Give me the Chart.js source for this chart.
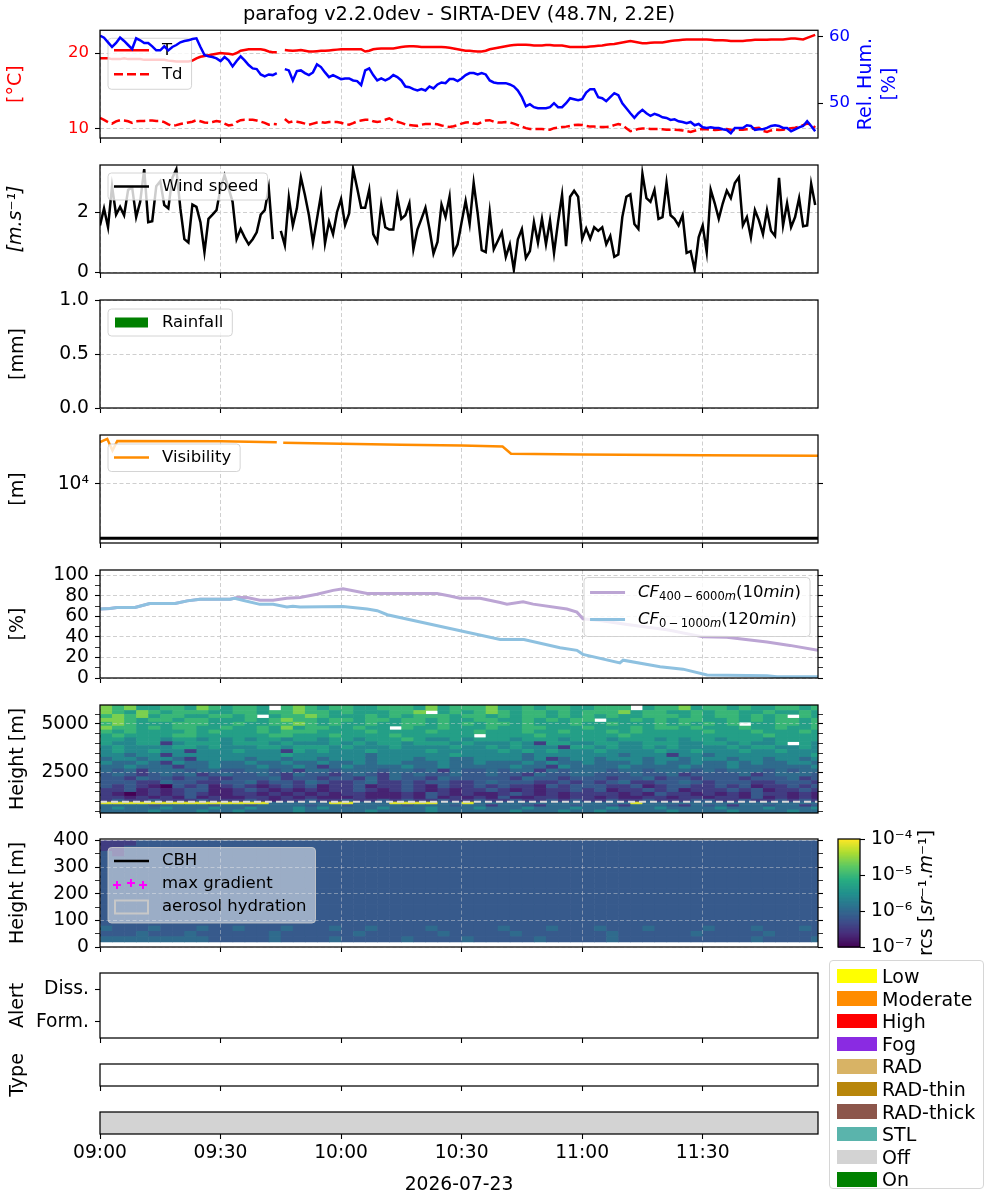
<!DOCTYPE html>
<html>
<head>
<meta charset="utf-8">
<title>parafog</title>
<script src="https://cdn.jsdelivr.net/npm/chart.js@4.4.1/dist/chart.umd.min.js"></script>
<style>
  html, body { margin: 0; padding: 0; background: #fff; }
  #page { position: relative; width: 1000px; height: 1200px; overflow: hidden; }
  #page canvas { position: absolute; }
  #stateLegend { position: absolute; left: 829px; top: 960px; width: 155px; height: 229px; box-sizing: border-box;
    border: 1px solid #d6d6d6; border-radius: 4px; background: #fff; font-family: 'DejaVu Sans', sans-serif; }
  #stateLegend .row { position: absolute; left: 7px; height: 22px; display: flex; align-items: center;
    font-size: 19px; white-space: nowrap; color: #000; }
  #stateLegend .sw { width: 40px; height: 14.5px; margin-right: 5px; flex: none; }
</style>
</head>
<body>
<div id="page">
  <canvas id="cMeteo"></canvas>
  <canvas id="cWind"></canvas>
  <canvas id="cRain"></canvas>
  <canvas id="cVis"></canvas>
  <canvas id="cCF"></canvas>
  <canvas id="cRcs"></canvas>
  <canvas id="cRcsLow"></canvas>
  <canvas id="cBar"></canvas>
  <canvas id="cAlert"></canvas>
  <canvas id="cType"></canvas>
  <canvas id="cStatus"></canvas>
  <div id="stateLegend"></div>
</div>
<script>
// ---------- data ----------
const plotTitle = 'parafog v2.2.0dev - SIRTA-DEV (48.7N, 2.2E)';
const dateLabel = '2026-07-23';
const timeSpan = 178.7;                       // minutes after 09:00 shown on the axis
const timeTicks = [0, 30, 60, 90, 120, 150];
const timeTickLabels = ['09:00', '09:30', '10:00', '10:30', '11:00', '11:30'];
const sampleStep = 1;                         // minutes between station samples

const tempC = [
  19.3,19.3,19.3,19.2,19.2,19.2,19.3,19.2,19.2,19.2,
  19.2,19.1,19.1,19.1,19.1,19.1,19.1,19.0,18.95,18.9,
  18.9,18.9,18.9,19.0,19.3,19.5,19.6,19.7,19.8,19.9,
  20.0,19.95,19.9,19.8,20.0,20.3,20.4,20.5,20.5,20.5,
  20.5,20.4,20.2,20.1,20.1,null,20.4,20.35,20.3,20.35,
  20.4,20.3,20.2,20.2,20.25,20.3,20.3,20.35,20.4,20.45,
  20.5,20.5,20.5,20.5,20.5,20.5,20.2,20.3,20.5,20.55,
  20.6,20.6,20.6,20.6,20.7,20.8,20.85,20.9,20.9,20.85,
  20.8,20.8,20.8,20.8,20.8,20.8,20.75,20.7,20.6,20.5,
  20.4,20.3,20.3,20.25,20.2,20.2,20.3,20.5,20.6,20.7,
  20.8,20.9,21.0,21.05,21.1,21.1,21.1,21.05,21.0,21.0,
  21.0,21.05,21.05,21.0,21.0,21.0,20.9,20.8,20.8,20.8,
  20.8,20.8,20.85,20.9,20.95,21.0,21.1,21.15,21.2,21.3,
  21.4,21.5,21.6,21.5,21.4,21.3,21.3,21.35,21.4,21.4,
  21.4,21.5,21.6,21.65,21.7,21.75,21.8,21.8,21.8,21.8,
  21.8,21.8,21.75,21.7,21.7,21.7,21.65,21.6,21.6,21.6,
  21.6,21.65,21.7,21.75,21.75,21.75,21.75,21.8,21.8,21.8,
  21.8,21.85,21.9,21.9,21.85,21.8,22.0,22.2,22.4
];
const dewPointC = [
  11.45,11.2,10.9,10.7,11.0,11.15,11.1,11.0,10.8,11.0,
  11.05,11.05,11.1,11.1,11.05,11.05,10.9,10.6,10.4,10.5,
  10.65,10.75,10.85,10.95,11.15,11.0,10.85,10.8,10.9,11.05,
  10.95,10.7,10.45,10.55,10.9,11.15,11.2,11.2,11.2,11.1,
  10.95,10.8,10.55,10.65,10.6,null,11.3,10.85,11.0,10.95,
  10.85,10.7,10.55,10.7,10.85,10.9,10.8,10.9,10.9,10.9,
  10.8,10.65,10.55,10.75,11.0,11.1,11.2,11.2,11.0,10.9,
  11.0,11.2,11.4,11.1,10.95,10.8,10.6,10.5,10.45,10.4,
  10.55,10.65,10.65,10.65,10.6,10.45,10.35,10.25,10.35,10.5,
  10.7,10.85,10.9,10.7,10.65,10.9,11.1,11.15,10.95,10.85,
  10.85,10.9,10.85,10.7,10.5,10.3,10.1,10.0,10.0,10.0,
  10.0,9.9,9.9,10.1,10.15,10.25,10.3,10.4,10.5,10.55,
  10.5,10.4,10.3,10.3,10.25,10.25,10.25,10.3,10.5,10.65,
  10.5,10.1,9.7,9.8,10.0,10.05,10.05,10.0,10.0,10.0,
  9.95,9.9,9.9,9.9,9.85,9.8,9.7,9.6,9.75,9.95,
  10.0,9.95,9.9,9.85,9.9,9.95,10.0,9.9,9.85,9.9,
  9.9,9.95,10.0,10.1,10.15,9.75,9.6,9.8,9.9,9.85,
  9.9,10.0,10.1,10.15,10.3,10.5,10.7,10.6,10.15
];
const relHum = [
  60.1,59.8,59.1,58.4,59.0,59.8,59.3,58.7,58.1,59.7,
  59.4,59.0,59.0,58.5,57.9,57.9,58.5,57.9,58.4,58.7,
  59.1,59.3,59.4,59.6,59.7,58.4,57.2,57.0,56.9,56.7,
  56.3,56.9,56.4,55.5,56.3,57.0,56.4,55.7,55.2,55.1,
  54.3,54.0,54.3,54.2,54.5,null,55.1,54.9,53.4,54.8,
  54.9,54.5,54.2,54.6,55.8,55.4,54.6,53.9,54.2,53.9,
  53.6,53.7,53.7,53.4,53.3,52.7,54.9,55.2,54.2,53.4,
  53.7,53.4,53.7,54.2,53.9,53.4,52.5,52.4,52.1,51.9,
  52.1,51.9,52.5,52.2,52.8,53.1,53.0,53.6,53.6,53.3,
  53.7,54.2,54.5,54.5,54.3,54.5,54.3,53.4,53.1,53.0,
  53.0,53.0,52.8,52.5,51.9,50.9,49.55,49.85,49.4,49.25,
  49.25,49.25,49.4,50.0,49.4,49.4,50.0,50.75,50.6,50.45,
  50.6,51.6,52.1,52.1,50.9,50.75,50.3,50.9,51.5,51.2,
  50.0,49.25,48.5,47.8,48.5,49.0,48.5,48.1,48.4,48.2,
  47.9,47.8,47.5,47.6,47.3,47.2,47.0,47.2,46.7,46.9,
  46.4,46.3,46.4,46.3,46.3,46.1,46.0,45.5,46.3,46.3,
  46.3,46.7,46.6,46.0,46.1,46.1,46.3,46.6,46.7,46.6,
  46.3,46.3,45.8,46.1,46.4,46.6,47.3,46.6,45.8
];
const windSpeed = [
  1.56,2.13,1.50,2.87,1.92,2.18,1.90,2.75,2.83,1.84,
  2.35,3.44,1.67,1.70,2.87,3.04,2.24,2.13,3.15,3.44,
  2.13,1.10,0.99,2.26,2.18,1.67,0.67,1.78,1.92,2.07,
  2.81,3.24,2.81,2.35,1.10,1.44,1.16,0.93,1.10,1.33,
  1.92,2.07,2.81,1.10,null,1.38,0.90,2.49,1.56,2.13,
  3.17,2.58,1.90,0.98,1.78,2.58,0.96,1.69,1.27,2.01,
  2.44,1.58,1.96,3.44,2.81,2.15,2.15,2.75,1.27,1.01,
  2.26,1.50,1.42,1.42,2.52,1.78,1.90,2.30,0.76,1.42,
  1.78,2.15,1.44,0.62,1.01,2.26,1.84,2.52,0.64,0.93,
  1.67,2.38,1.61,2.98,1.96,0.73,0.67,2.01,0.76,1.04,
  1.33,0.51,0.93,0.08,1.10,1.44,0.47,0.70,1.67,0.98,
  1.78,0.93,1.73,0.64,1.67,2.58,0.87,2.52,2.72,2.52,
  1.10,1.46,1.12,1.50,1.38,1.50,0.93,1.21,0.51,0.59,
  1.84,2.52,2.60,1.61,1.44,3.29,2.47,2.35,2.75,1.78,
  1.84,2.98,1.90,1.78,1.56,1.90,0.64,0.70,0.08,1.16,
  1.56,0.67,2.75,2.30,1.78,2.30,2.72,2.47,2.98,3.17,
  1.56,1.84,1.16,2.07,1.73,1.27,2.07,1.38,1.21,3.15,
  1.56,2.30,1.50,1.84,2.47,1.53,1.56,2.95,2.24
];
const rainTime = [0, 30, 60, 90, 120, 150];
const rainMm = [0, 0, 0, 0, 0, 0];

const visTime =   [0, 1.8, 3.1, 4.3, 30, 44, 44.8, 45.6, 60, 75, 90, 100.2, 102.3, 120, 150, 178.7];
const visMeters = [58200, 67100, 40900, 61500, 60700, 58200, null, 56700, 54400, 52100, 50600, 48500, 35600, 34600, 33600, 32700];
const visFogLimit = 1000;

const cfHighTime = [0, 2.5, 4.2, 8.7, 12.4, 18.7, 21.7, 24.9, 32.4, 34.1, 36.6, 39.8, 43.1, 46.5, 49.8, 54, 58, 60.5, 66.5,
  83.9, 87.1, 89.6, 94.6, 99.6, 101.3, 105.3, 107.8, 116.2, 118.7, 120.2, 124.4, 131.2, 141.1, 150.1, 156, 166, 171.7, 178.7];
const cfHighValue = [67, 67.5, 68.6, 68.6, 72.4, 72.4, 75, 76.6, 76.6, 78.2, 78.2, 75.6, 75.6, 77.6, 78.2, 81.4, 85.2, 86.8, 82.1,
  82.1, 79.8, 77.6, 77.6, 73.4, 71.8, 74, 71.8, 67, 64, 57.5, 55.8, 52, 47, 40, 39.7, 35, 31.7, 27];
const cfLowTime = [0, 2.5, 4.2, 8.7, 12.4, 18.7, 21.7, 24.9, 32.4, 33.5, 35.5, 39.8, 43.1, 46.5, 48, 49.8, 60.5, 66.5, 69, 71.5,
  99.6, 105.5, 114.5, 118.7, 120.2, 129.4, 130.2, 139.4, 145.1, 151.1, 166, 168.5, 178.7];
const cfLowValue = [67, 67.5, 68.6, 68.6, 72.4, 72.4, 75, 76.6, 76.6, 77.5, 75.6, 71.6, 71.6, 69, 69.8, 69, 69.6, 67, 65.4, 61.5,
  37.5, 37.5, 29.5, 26.9, 23, 14.7, 17.3, 10.9, 8.6, 2.9, 2.2, 1.3, 1.3];
const cfSplitHeight = 1000;

// range corrected signal, log10 levels; one char per 3-minute column, '.' = no data
const rcsStep = 3;
const rcsMin = -7, rcsMax = -4;
const rcsLevels = [-7.0, -6.7, -6.45, -6.15, -5.95, -5.6, -5.3, -5.0, -4.6, -4.15];
const rcsEdges = [5965, 5700, 5500, 5300, 5100, 4900, 4700, 4500, 4300, 4100, 3900, 3700, 3500, 3300, 3100,
  2900, 2700, 2500, 2300, 2100, 1900, 1700, 1500, 1300, 1150, 1000, 870, 750, 600, 420];
const rcsRows = [
  '8786677687 6776.78767 7667776867 7786676776 6777.67786 7767667767',
  '8768767776 6776778776 7666778.67 6787677676 7778677667 6776676676',
  '7878677667 767.677876 6676767776 7767677676 7676677767 6776767.76',
  '8876776776 6676787767 7677677676 6776676767 7.66767677 6676767767',
  '7876667776 6766778767 6676677676 7677676667 6676667676 767.667767',
  '8776767766 7667686776 6766.76676 6676677666 7666767767 6667667667',
  '7676666767 6667677766 6676666766 6766676676 6676766666 7666766676',
  '6766667766 6666776667 6666766666 6.66667666 6667666666 6666676666',
  '6656656656 5656656656 6566676556 5666566656 6656665656 6566656666',
  '6556625666 5666565556 5656656665 6555652665 5665566655 6656556.65',
  '5655556656 5556656665 6555655556 5565655526 6565565655 5565665565',
  '5655655255 5655526565 5565555655 5556565655 5655556556 5556556555',
  '5545525555 5555565555 5545555556 5555545555 5554555255 4555555556',
  '4554554255 5545545545 5545554554 4555545245 5455545545 5545545545',
  '5445425445 4454454454 4545544454 4544454544 5444545445 4454544554',
  '4454442445 4445445424 5444454454 4444544254 4445444454 4454444445',
  '4342444344 3344342443 4443443424 3343442434 4434434443 4344434344',
  '3432343423 4334324332 3432434334 3343324334 4333433423 3334234443',
  '3324332332 2333423323 3242433243 3333243323 3323342332 3332333423',
  '3332243322 3342332432 2342232332 2343332232 3234223343 2333223332',
  '3232103231 2321232312 2312232132 2323221323 3322312332 2323122323',
  '2231212331 1232121212 2321232121 2232121223 2312232312 2232312232',
  '2101212321 1221212121 2211121321 2112321212 2221213221 2121322121',
  '2212121312 1122121211 1211121312 1213112212 2121122122 1221312121',
  '2322322232 2232122322 3223232232 2322322323 2232232223 3223223232',
  '9999999999 9999444449 9444999944 9444444444 4444944444 4444444444',
  '4444344443 4434444344 3444434443 4424432443 4432444324 3424434423',
  '4544454445 4454445454 4445444544 4544454445 4454445444 4544454445',
  '4444544454 4544445444 4454444544 4444544454 4544444544 4454444544'
];
const lowEdges = [400, 380, 360, 340, 320, 300, 280, 260, 240, 220, 200, 180, 160, 140, 120, 100, 80, 60, 40, 20, 0];
const lowFill = '3333333333 3333333333 3333333333 3333333333 3333333333 3333333333';
const lowRows = [
  '2223333333 3333333333 3333333333 3333333333 3333333333 3333333333',
  '2233333333 3333333333 3333333333 3333333333 3333333333 3333333333',
  '3233333333 3333333333 3333333333 3333333333 3333333333 3333333333',
  lowFill, lowFill, lowFill, lowFill, lowFill, lowFill, lowFill, lowFill, lowFill, lowFill, lowFill,
  lowFill, lowFill,
  '4333433343 3433343334 3343333433 3334333433 3433343333 4333433343',
  '3334333433 3333433333 3433333343 3333433333 3343333334 3333343333',
  '4444444443 3333433334 3333343333 4333334333 3343333333 3333433334'
];
const cbhTime = [], cbhHeight = [];
const gradTime = [], gradHeight = [];
const cbTicks = [1e-7, 1e-6, 1e-5, 1e-4];
const cbTickLabels = ['10\u207b\u2077', '10\u207b\u2076', '10\u207b\u2075', '10\u207b\u2074'];

const alertFormTime = [], alertDissTime = [];
const fogTypeStart = [], fogTypeEnd = [], fogTypeName = [];
const statusStart = [0], statusEnd = [178.7], statusName = ['Off'];
const stateNames = ['Low', 'Moderate', 'High', 'Fog', 'RAD', 'RAD-thin', 'RAD-thick', 'STL', 'Off', 'On'];
const stateColors = ['#ffff00', '#ff8c00', '#ff0000', '#8a2be2', '#d8b365', '#b8860b', '#8c564b', '#5ab4ac', '#d3d3d3', '#008000'];

// ---------- styling helpers ----------
const FONT = "'DejaVu Sans', 'Liberation Sans', sans-serif";
const GRID = '#cfcfcf';
const GRID_ON_TOP = 'rgba(215,215,215,0.45)';
const DASH = [4, 2.5];
const PAD = 20;      // room above / below each plot area inside its canvas
const PLOT_H = 108;
Chart.defaults.font.family = FONT;
Chart.defaults.font.size = 18.7;
Chart.defaults.color = '#000';
Chart.defaults.elements.point.radius = 0;
Chart.defaults.elements.line.borderWidth = 2.5;
Chart.defaults.elements.line.tension = 0;

const el = id => document.getElementById(id);
function placeCanvas(id, top, height, left = 0, width = 1000) {
  const c = el(id);
  c.width = width; c.height = height;
  c.style.left = left + 'px'; c.style.top = top + 'px';
  c.style.width = width + 'px'; c.style.height = height + 'px';
  return c;
}
const series = vals => vals.map((v, i) => ({ x: i * sampleStep, y: v }));
const pairs = (xs, ys) => xs.map((x, i) => ({ x, y: ys[i] }));

const VIRIDIS = ['#440154', '#472c7a', '#3b518b', '#2c718e', '#21908d', '#27ad81', '#5cc863', '#aadc32', '#fde725'];
const hexRgb = h => [1, 3, 5].map(k => parseInt(h.slice(k, k + 2), 16));
function viridis(t) {
  t = Math.min(1, Math.max(0, t));
  const f = t * (VIRIDIS.length - 1);
  const k = Math.min(Math.floor(f), VIRIDIS.length - 2), r = f - k;
  const a = hexRgb(VIRIDIS[k]), b = hexRgb(VIRIDIS[k + 1]);
  return 'rgb(' + a.map((v, i) => Math.round(v + (b[i] - v) * r)).join(',') + ')';
}

function timeAxis(labels, grid, gridColor, gridZ) {
  return {
    type: 'linear', position: 'bottom', min: 0, max: timeSpan, offset: false,
    afterFit: s => { s.height = labels ? 66 : PAD; },
    afterBuildTicks: s => { s.ticks = timeTicks.map(v => ({ value: v })); },
    ticks: { display: labels, autoSkip: false, maxRotation: 0, padding: 3, font: { size: 18.7 },
      callback: (v, i) => timeTickLabels[i] },
    grid: { drawOnChartArea: grid, offset: false, color: gridColor || GRID, lineWidth: 1, tickLength: 5,
      tickColor: '#000', tickWidth: 1.1, z: gridZ || -1 },
    border: { display: false, dash: DASH },
    title: labels ? { display: true, text: dateLabel, font: { size: 18.7 }, padding: { top: 0, bottom: 4 } } : { display: false }
  };
}

function yAxis(o) {
  const major = o.major || [], minor = o.minor || [];
  const all = major.concat(minor).sort((a, b) => a - b);
  const right = o.position === 'right';
  const isMajor = c => c.tick && major.includes(c.tick.value);
  return {
    type: o.type || 'linear', position: right ? 'right' : 'left',
    min: o.min, max: o.max,
    afterFit: s => { s.width = right ? 182 : 100; },
    afterBuildTicks: s => { s.ticks = all.map(v => ({ value: v })); },
    ticks: {
      display: o.showLabels ?? !right, autoSkip: false, padding: 6,
      color: o.color || '#000', font: { size: o.size || 18.7 },
      callback: v => { const k = major.indexOf(v); return k < 0 ? '' : (o.labels ? o.labels[k] : String(v)); }
    },
    grid: {
      drawOnChartArea: !!o.grid,
      color: c => isMajor(c) ? (o.gridColor || GRID) : 'rgba(0,0,0,0)',
      lineWidth: 1, tickLength: 5, tickColor: '#000',
      tickWidth: c => isMajor(c) ? 1.1 : 0.8,
      z: o.gridZ || -1
    },
    border: { display: false, dash: DASH },
    title: o.title ? { display: true, text: o.title, color: o.titleColor || '#000',
      font: { size: 19, style: o.italic ? 'italic' : 'normal' },
      padding: { top: o.titlePad ?? 6.5, bottom: 0 } } : { display: false }
  };
}

function categoryAxis(title) {
  return {
    type: 'category', position: 'left',
    afterFit: s => { s.width = 100; },
    ticks: { display: false }, grid: { display: false }, border: { display: false },
    title: title ? { display: true, text: title, font: { size: 19 }, padding: { top: 6.5, bottom: 0 } } : { display: false }
  };
}

function options(scales, padRight, plugins) {
  return {
    responsive: false, animation: false,
    layout: { padding: { top: PAD, right: padRight, left: 0, bottom: 0 } },
    plugins: Object.assign({ legend: { display: false }, tooltip: { enabled: false } }, plugins || {}),
    scales
  };
}

// ---------- drawing plugins ----------
function partFont(p, fs) { return (p.i ? 'italic ' : '') + (p.sub ? fs * 0.7 : fs) + 'px ' + FONT; }
function drawParts(ctx, parts, x, y, fs, draw) {
  let cx = x;
  for (const p of parts) {
    ctx.font = partFont(p, fs);
    if (draw) ctx.fillText(p.t, cx, y + (p.sub ? fs * 0.3 : 0));
    cx += ctx.measureText(p.t).width;
  }
  return cx - x;
}
function roundRect(ctx, x, y, w, h, r) {
  ctx.beginPath();
  ctx.moveTo(x + r, y);
  ctx.arcTo(x + w, y, x + w, y + h, r);
  ctx.arcTo(x + w, y + h, x, y + h, r);
  ctx.arcTo(x, y + h, x, y, r);
  ctx.arcTo(x, y, x + w, y, r);
  ctx.closePath();
}

const legendSpecs = {
  cMeteo: { after: 1, top: 8, h: 51, first: 12, step: 24, items: [
    { kind: 'line', color: '#ff0000', parts: [{ t: 'T' }] },
    { kind: 'line', color: '#ff0000', dash: [9, 4], parts: [{ t: 'Td' }] }] },
  cWind: { top: 8, h: 27, first: 13.5, items: [{ kind: 'line', color: '#000', parts: [{ t: 'Wind speed' }] }] },
  cRain: { top: 9, h: 27, first: 13.5, items: [{ kind: 'patch', color: '#008000', parts: [{ t: 'Rainfall' }] }] },
  cVis: { top: 9, h: 27.5, first: 13.5, items: [{ kind: 'line', color: '#ff8c00', parts: [{ t: 'Visibility' }] }] },
  cCF: { right: true, top: 7.5, h: 59, first: 15, step: 27, items: [
    { kind: 'line', color: '#bca5d4', width: 3, parts: [{ t: 'CF', i: 1 }, { t: '400\u2009\u2212\u20096000', sub: 1 },
      { t: 'm', sub: 1, i: 1 }, { t: '(10' }, { t: 'min', i: 1 }, { t: ')' }] },
    { kind: 'line', color: '#8ec1e0', width: 3, parts: [{ t: 'CF', i: 1 }, { t: '0\u2009\u2212\u20091000', sub: 1 },
      { t: 'm', sub: 1, i: 1 }, { t: '(120' }, { t: 'min', i: 1 }, { t: ')' }] }] },
  cRcsLow: { top: 8.5, h: 75.5, first: 13.5, step: 23, alpha: 0.5, items: [
    { kind: 'line', color: '#000', parts: [{ t: 'CBH' }] },
    { kind: 'plus', color: '#ff00ff', parts: [{ t: 'max gradient' }] },
    { kind: 'outline', color: '#c8c8c8', parts: [{ t: 'aerosol hydration' }] }] }
};

function drawBoxLegend(chart, L) {
  const { ctx, chartArea: a } = chart;
  const fs = 16.5;
  ctx.save();
  ctx.textBaseline = 'middle'; ctx.textAlign = 'left';
  const tw = Math.max(...L.items.map(it => drawParts(ctx, it.parts, 0, 0, fs, false)));
  const w = 54 + tw + 9;
  const x = L.right ? a.right - 8 - w : a.left + 8;
  const y = a.top + L.top;
  roundRect(ctx, x, y, w, L.h, 3.5);
  ctx.fillStyle = 'rgba(255,255,255,' + (L.alpha ?? 0.8) + ')';
  ctx.fill();
  ctx.strokeStyle = 'rgba(204,204,204,0.85)'; ctx.lineWidth = 1; ctx.stroke();
  L.items.forEach((it, k) => {
    const cy = y + L.first + k * (L.step || 0);
    ctx.save();
    ctx.strokeStyle = it.color; ctx.fillStyle = it.color;
    if (it.kind === 'line') {
      ctx.lineWidth = it.width || 2.5; ctx.setLineDash(it.dash || []);
      ctx.beginPath(); ctx.moveTo(x + 6, cy); ctx.lineTo(x + 41, cy); ctx.stroke();
    } else if (it.kind === 'patch') {
      ctx.fillRect(x + 7, cy - 5, 33, 10);
    } else if (it.kind === 'plus') {
      ctx.lineWidth = 2;
      [[9, 1], [23, -1], [35, 1]].forEach(([dx, dy]) => {
        ctx.beginPath();
        ctx.moveTo(x + dx - 4, cy + dy); ctx.lineTo(x + dx + 4, cy + dy);
        ctx.moveTo(x + dx, cy + dy - 4); ctx.lineTo(x + dx, cy + dy + 4);
        ctx.stroke();
      });
    } else if (it.kind === 'outline') {
      ctx.lineWidth = 2; ctx.strokeRect(x + 7, cy - 6.5, 33, 13);
    }
    ctx.restore();
    ctx.fillStyle = '#000';
    drawParts(ctx, it.parts, x + 54, cy, fs, true);
  });
  ctx.restore();
}

Chart.register({
  id: 'frame',
  afterDraw(chart) {
    const { ctx, chartArea: a } = chart;
    ctx.save();
    ctx.strokeStyle = '#000'; ctx.lineWidth = 1.25;
    ctx.strokeRect(a.left, a.top, a.right - a.left, a.bottom - a.top);
    ctx.restore();
  }
});
Chart.register({
  id: 'boxLegend',
  afterDatasetDraw(chart, args) {
    const L = legendSpecs[chart.canvas.id];
    if (L && L.after === args.index) drawBoxLegend(chart, L);
  },
  afterDraw(chart) {
    const L = legendSpecs[chart.canvas.id];
    if (L && L.after === undefined) drawBoxLegend(chart, L);
  }
});

function heatLayer(rows, edges) {
  return {
    id: 'heat',
    beforeDatasetsDraw(chart) {
      const { ctx, chartArea: a, scales: { x, y } } = chart;
      ctx.save();
      ctx.beginPath(); ctx.rect(a.left, a.top, a.right - a.left, a.bottom - a.top); ctx.clip();
      rows.forEach((row, i) => {
        const cells = row.replace(/ /g, '');
        const yTop = y.getPixelForValue(edges[i]);
        const yBot = y.getPixelForValue(edges[i + 1]);
        for (let j = 0; j < cells.length; j++) {
          if (cells[j] === '.') continue;
          const x0 = x.getPixelForValue(j * rcsStep);
          const x1 = x.getPixelForValue((j + 1) * rcsStep);
          ctx.fillStyle = viridis((rcsLevels[+cells[j]] - rcsMin) / (rcsMax - rcsMin));
          ctx.fillRect(x0, yTop, x1 - x0 + 0.6, yBot - yTop + 0.6);
        }
      });
      ctx.restore();
    }
  };
}

function rotatedParts(ctx, parts, cx, cy, fs, color) {
  ctx.save();
  ctx.fillStyle = color; ctx.textBaseline = 'middle'; ctx.textAlign = 'left';
  ctx.translate(cx, cy); ctx.rotate(-Math.PI / 2);
  const w = drawParts(ctx, parts, 0, 0, fs, false);
  drawParts(ctx, parts, -w / 2, 0, fs, true);
  ctx.restore();
}

const rhTitle = {
  id: 'rhTitle',
  afterDraw(chart) {
    const { ctx, chartArea: a } = chart;
    const cy = (a.top + a.bottom) / 2;
    rotatedParts(ctx, [{ t: 'Rel. Hum.' }], a.right + 48, cy, 19, '#0000ff');
    rotatedParts(ctx, [{ t: '[%]' }], a.right + 72, cy, 19, '#0000ff');
  }
};

const colorbarFill = {
  id: 'colorbarFill',
  beforeDatasetsDraw(chart) {
    const { ctx, chartArea: a, scales: { y } } = chart;
    ctx.save();
    for (let v = rcsMin; v < rcsMax - 1e-9; v += 0.01) {
      const y0 = y.getPixelForValue(Math.pow(10, v + 0.01));
      const y1 = y.getPixelForValue(Math.pow(10, v));
      ctx.fillStyle = viridis((v - rcsMin) / (rcsMax - rcsMin));
      ctx.fillRect(a.left, y0, a.right - a.left, y1 - y0 + 0.6);
    }
    ctx.restore();
  },
  afterDraw(chart) {
    const { ctx, chartArea: a } = chart;
    rotatedParts(ctx, [{ t: 'rcs [' }, { t: 'sr', i: 1 }, { t: '\u207b\u00b9.' }, { t: 'm', i: 1 }, { t: '\u207b\u00b9]' }],
      a.right + 67, (a.top + a.bottom) / 2, 19, '#000');
  }
};

// ---------- charts ----------
const panelCanvas = (id, plotTop, plotH) => placeCanvas(id, plotTop - PAD, PAD + plotH + PAD);

// temperature / dew point / humidity (plot area starts under the title, at y = 30)
new Chart(placeCanvas('cMeteo', 0, 158), {
  type: 'line',
  data: { datasets: [
    { label: 'RH', data: series(relHum), borderColor: '#0000ff', yAxisID: 'y2', order: 0 },
    { label: 'T', data: series(tempC), borderColor: '#ff0000', yAxisID: 'y', order: 1 },
    { label: 'Td', data: series(dewPointC), borderColor: '#ff0000', borderDash: [9, 4], yAxisID: 'y', order: 2 }
  ] },
  options: Object.assign(options({
    x: timeAxis(false, true),
    y: yAxis({ min: 8.8, max: 23.0, major: [10, 20], size: 16.5, color: '#ff0000', grid: true,
      title: '[\u00b0C]', titleColor: '#ff0000', titlePad: 5 }),
    y2: yAxis({ position: 'right', min: 44.8, max: 60.9, major: [50, 60], size: 16.5, color: '#0000ff', showLabels: true })
  }, 0, { title: { display: true, text: plotTitle, fullSize: false, color: '#000',
    padding: { top: 3, bottom: 4 }, font: { size: 19.4, weight: 'normal' } } }), { layout: { padding: { top: 0, right: 0 } } }),
  plugins: [rhTitle]
});

// wind
new Chart(panelCanvas('cWind', 165, PLOT_H), {
  type: 'line',
  data: { datasets: [{ label: 'Wind speed', data: series(windSpeed), borderColor: '#000' }] },
  options: options({
    x: timeAxis(false, true),
    y: yAxis({ min: -0.03, max: 3.58, major: [0, 2], grid: true, title: '[m.s\u207b\u00b9]', italic: true, titlePad: 4.5 })
  }, 182)
});

// rainfall
new Chart(panelCanvas('cRain', 299.5, PLOT_H), {
  type: 'bar',
  data: { datasets: [{ label: 'Rainfall', data: pairs(rainTime, rainMm), backgroundColor: '#008000', borderWidth: 0 }] },
  options: options({
    x: timeAxis(false, true),
    y: yAxis({ min: 0, max: 1, major: [0, 0.5, 1], labels: ['0.0', '0.5', '1.0'], grid: true, title: '[mm]' })
  }, 182)
});

// visibility
new Chart(panelCanvas('cVis', 434.5, PLOT_H), {
  type: 'line',
  data: { datasets: [
    { label: 'Visibility', data: pairs(visTime, visMeters), borderColor: '#ff8c00' },
    { label: 'fog limit', data: pairs([0, timeSpan], [visFogLimit, visFogLimit]), borderColor: '#000', borderWidth: 3 }
  ] },
  options: options({
    x: timeAxis(false, true),
    y: yAxis({ type: 'logarithmic', min: 816, max: 78900, major: [1e4], labels: ['10\u2074'], grid: true, title: '[m]' }),
    y2: yAxis({ type: 'logarithmic', position: 'right', min: 816, max: 78900, major: [1e4] })
  }, 0)
});

// cloud fraction
new Chart(panelCanvas('cCF', 569.5, PLOT_H), {
  type: 'line',
  data: { datasets: [
    { label: 'CF 400-6000m', data: pairs(cfHighTime, cfHighValue), borderColor: '#bca5d4', borderWidth: 3, order: 2 },
    { label: 'CF 0-1000m', data: pairs(cfLowTime, cfLowValue), borderColor: '#8ec1e0', borderWidth: 3, order: 1 }
  ] },
  options: options({
    x: timeAxis(false, true),
    y: yAxis({ min: 0, max: 105, major: [0, 20, 40, 60, 80, 100], minor: [10, 30, 50, 70, 90], grid: true, title: '[%]' }),
    y2: yAxis({ position: 'right', min: 0, max: 105, major: [0, 20, 40, 60, 80, 100], minor: [10, 30, 50, 70, 90] })
  }, 0)
});

// backscatter profile, full range
const rcsMajor = [2500, 5000], rcsMinor = [500, 1000, 1500, 2000, 3000, 3500, 4000, 4500, 5500];
new Chart(panelCanvas('cRcs', 704.5, PLOT_H), {
  type: 'line',
  data: { datasets: [
    { label: 'CF split', data: pairs([0, timeSpan], [cfSplitHeight, cfSplitHeight]), borderColor: '#d9d9d9', borderWidth: 2, borderDash: [7, 4] }
  ] },
  options: options({
    x: timeAxis(false, true, GRID_ON_TOP, 1),
    y: yAxis({ min: 420, max: 5965, major: rcsMajor, minor: rcsMinor, grid: true, gridColor: GRID_ON_TOP, gridZ: 1, title: 'Height [m]' }),
    y2: yAxis({ position: 'right', min: 420, max: 5965, major: rcsMajor, minor: rcsMinor })
  }, 0),
  plugins: [heatLayer(rcsRows, rcsEdges)]
});

// backscatter profile, lowest levels
const lowMajor = [0, 100, 200, 300, 400], lowMinor = [50, 150, 250, 350];
new Chart(panelCanvas('cRcsLow', 838.5, PLOT_H), {
  type: 'line',
  data: { datasets: [
    { label: 'CBH', data: pairs(cbhTime, cbhHeight), borderColor: '#000' },
    { label: 'max gradient', data: pairs(gradTime, gradHeight), showLine: false, pointStyle: 'cross', pointRadius: 4, borderColor: '#ff00ff' }
  ] },
  options: options({
    x: timeAxis(false, true, GRID_ON_TOP, 1),
    y: yAxis({ min: 0, max: 405, major: lowMajor, minor: lowMinor, grid: true, gridColor: GRID_ON_TOP, gridZ: 1, title: 'Height [m]' }),
    y2: yAxis({ position: 'right', min: 0, max: 405, major: lowMajor, minor: lowMinor })
  }, 0),
  plugins: [heatLayer(lowRows, lowEdges)]
});

// colour bar
new Chart(placeCanvas('cBar', 838.5 - PAD, PAD + PLOT_H + PAD, 828, 172), {
  type: 'scatter',
  data: { datasets: [] },
  options: {
    responsive: false, animation: false,
    layout: { padding: { left: 10, top: PAD, bottom: PAD, right: 0 } },
    plugins: { legend: { display: false }, tooltip: { enabled: false } },
    scales: {
      x: { display: false },
      y: { type: 'logarithmic', position: 'right', min: 1e-7, max: 1e-4,
        afterFit: s => { s.width = 140; },
        afterBuildTicks: s => { s.ticks = cbTicks.map(v => ({ value: v })); },
        ticks: { autoSkip: false, padding: 6, font: { size: 18.7 }, callback: (v, i) => cbTickLabels[i] },
        grid: { drawOnChartArea: false, tickLength: 5, tickColor: '#000', tickWidth: 1.1 },
        border: { display: false } }
    }
  },
  plugins: [colorbarFill]
});

// alerts
new Chart(panelCanvas('cAlert', 973, 65), {
  type: 'scatter',
  data: { datasets: [
    { label: 'Formation', data: alertFormTime.map(t => ({ x: t, y: 0 })), pointRadius: 3 },
    { label: 'Dissipation', data: alertDissTime.map(t => ({ x: t, y: 1 })), pointRadius: 3 }
  ] },
  options: options({
    x: timeAxis(false, false),
    y: yAxis({ min: -0.5, max: 1.5, major: [0, 1], labels: ['Form.', 'Diss.'], grid: false, title: 'Alert' })
  }, 182)
});

// fog type
new Chart(panelCanvas('cType', 1064, 22), {
  type: 'bar',
  data: { labels: ['type'], datasets: fogTypeName.map((n, k) => ({
    label: n, data: [[fogTypeStart[k], fogTypeEnd[k]]], backgroundColor: stateColors[stateNames.indexOf(n)],
    barPercentage: 1, categoryPercentage: 1, grouped: false, borderWidth: 0 })) },
  options: Object.assign(options({ x: timeAxis(false, false), y: categoryAxis('Type') }, 182), { indexAxis: 'y' })
});

// detection status (x labels and date live under this one)
new Chart(placeCanvas('cStatus', 1112 - PAD, PAD + 22 + 66), {
  type: 'bar',
  data: { labels: ['status'], datasets: statusName.map((n, k) => ({
    label: n, data: [[statusStart[k], statusEnd[k]]], backgroundColor: stateColors[stateNames.indexOf(n)],
    barPercentage: 1, categoryPercentage: 1, grouped: false, borderWidth: 0 })) },
  options: Object.assign(options({ x: timeAxis(true, false), y: categoryAxis(null) }, 182), { indexAxis: 'y' })
});

// state legend
const leg = el('stateLegend');
stateNames.forEach((name, k) => {
  const row = document.createElement('div');
  row.className = 'row';
  row.style.top = (4 + k * 22.6) + 'px';
  const sw = document.createElement('span');
  sw.className = 'sw';
  sw.style.background = stateColors[k];
  const lab = document.createElement('span');
  lab.textContent = name;
  row.appendChild(sw); row.appendChild(lab);
  leg.appendChild(row);
});
</script>
</body>
</html>
